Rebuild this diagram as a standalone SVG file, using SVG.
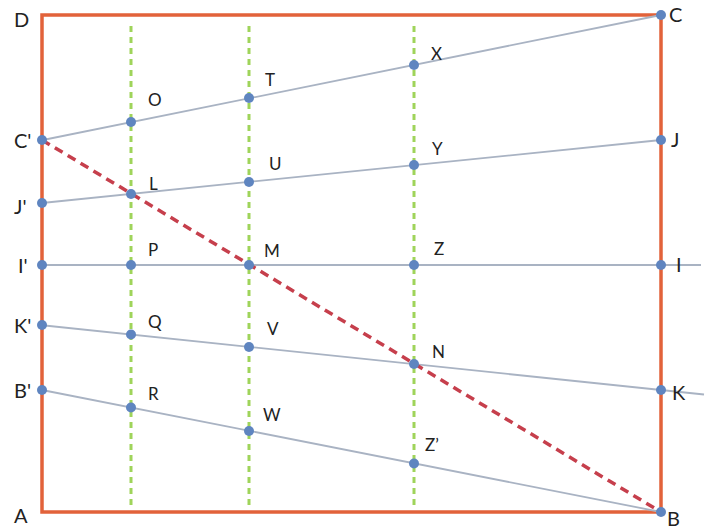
<svg xmlns="http://www.w3.org/2000/svg" width="711" height="530" viewBox="0 0 711 530">
<style>
.big{font-family:Lato,"Liberation Sans",sans-serif;font-size:20px;fill:#222}
.sm{font-family:Lato,"Liberation Sans",sans-serif;font-size:17px;fill:#222}
.g{stroke:#9fd45a;stroke-width:3;stroke-dasharray:6 5;fill:none}
.l{stroke:#a9b3c3;stroke-width:1.8;fill:none}
.d{fill:#5f85c0}
</style>
<rect width="711" height="530" fill="#fff"/>
<g id="frame">
<rect x="42" y="15" width="619" height="497" fill="none" stroke="#e2623a" stroke-width="3.5"/>
</g>
<g id="connectors">
<line class="g" x1="131" y1="26" x2="131" y2="510"/>
<line class="g" x1="249" y1="26" x2="249" y2="510"/>
<line class="g" x1="414" y1="26" x2="414" y2="510"/>
<line class="l" x1="38" y1="141" x2="661" y2="15"/>
<line class="l" x1="42" y1="203" x2="661" y2="140"/>
<line class="l" x1="42" y1="265" x2="701" y2="265"/>
<line class="l" x1="40" y1="325" x2="704" y2="394.5"/>
<line class="l" x1="42" y1="390" x2="661" y2="512"/>
<line x1="42" y1="140" x2="661" y2="512" stroke="#c63f4c" stroke-width="3.5" stroke-dasharray="9 6"/>
</g>
<g id="points">
<circle class="d" cx="42" cy="140" r="5"/>
<circle class="d" cx="661" cy="15" r="5"/>
<circle class="d" cx="131" cy="122" r="5"/>
<circle class="d" cx="249" cy="98" r="5"/>
<circle class="d" cx="414" cy="65" r="5"/>
<circle class="d" cx="42" cy="203" r="5"/>
<circle class="d" cx="661" cy="140" r="5"/>
<circle class="d" cx="131" cy="194" r="5"/>
<circle class="d" cx="249" cy="182" r="5"/>
<circle class="d" cx="414" cy="165" r="5"/>
<circle class="d" cx="42" cy="265" r="5"/>
<circle class="d" cx="661" cy="265" r="5"/>
<circle class="d" cx="131" cy="265" r="5"/>
<circle class="d" cx="249" cy="265" r="5"/>
<circle class="d" cx="414" cy="265" r="5"/>
<circle class="d" cx="42" cy="325" r="5"/>
<circle class="d" cx="661" cy="390" r="5"/>
<circle class="d" cx="131" cy="334.5" r="5"/>
<circle class="d" cx="249" cy="347" r="5"/>
<circle class="d" cx="414" cy="364" r="5"/>
<circle class="d" cx="42" cy="390" r="5"/>
<circle class="d" cx="661" cy="512" r="5"/>
<circle class="d" cx="131" cy="407.5" r="5"/>
<circle class="d" cx="249" cy="431" r="5"/>
<circle class="d" cx="414" cy="463.5" r="5"/>
</g>
<g id="labels">
<text class="big" x="14" y="27">D</text>
<text class="big" x="669" y="22">C</text>
<text class="big" x="14" y="148">C'</text>
<text class="big" x="14" y="214">J'</text>
<text class="big" x="18" y="273">I'</text>
<text class="big" x="14" y="333">K'</text>
<text class="big" x="14" y="398">B'</text>
<text class="big" x="14" y="523">A</text>
<text class="big" x="671" y="147">J</text>
<text class="big" x="676" y="272">I</text>
<text class="big" x="672" y="400">K</text>
<text class="big" x="667" y="526">B</text>
<text class="sm" x="148" y="106">O</text>
<text class="sm" x="149" y="190">L</text>
<text class="sm" x="148" y="256">P</text>
<text class="sm" x="148" y="328">Q</text>
<text class="sm" x="148" y="400">R</text>
<text class="sm" x="265" y="86">T</text>
<text class="sm" x="269" y="170">U</text>
<text class="sm" x="264" y="257">M</text>
<text class="sm" x="267" y="335">V</text>
<text class="sm" x="263" y="421">W</text>
<text class="sm" x="431" y="60">X</text>
<text class="sm" x="432" y="155">Y</text>
<text class="sm" x="434" y="255">Z</text>
<text class="sm" x="432" y="358">N</text>
<text class="sm" x="425" y="451">Z’</text>
</g>
</svg>
